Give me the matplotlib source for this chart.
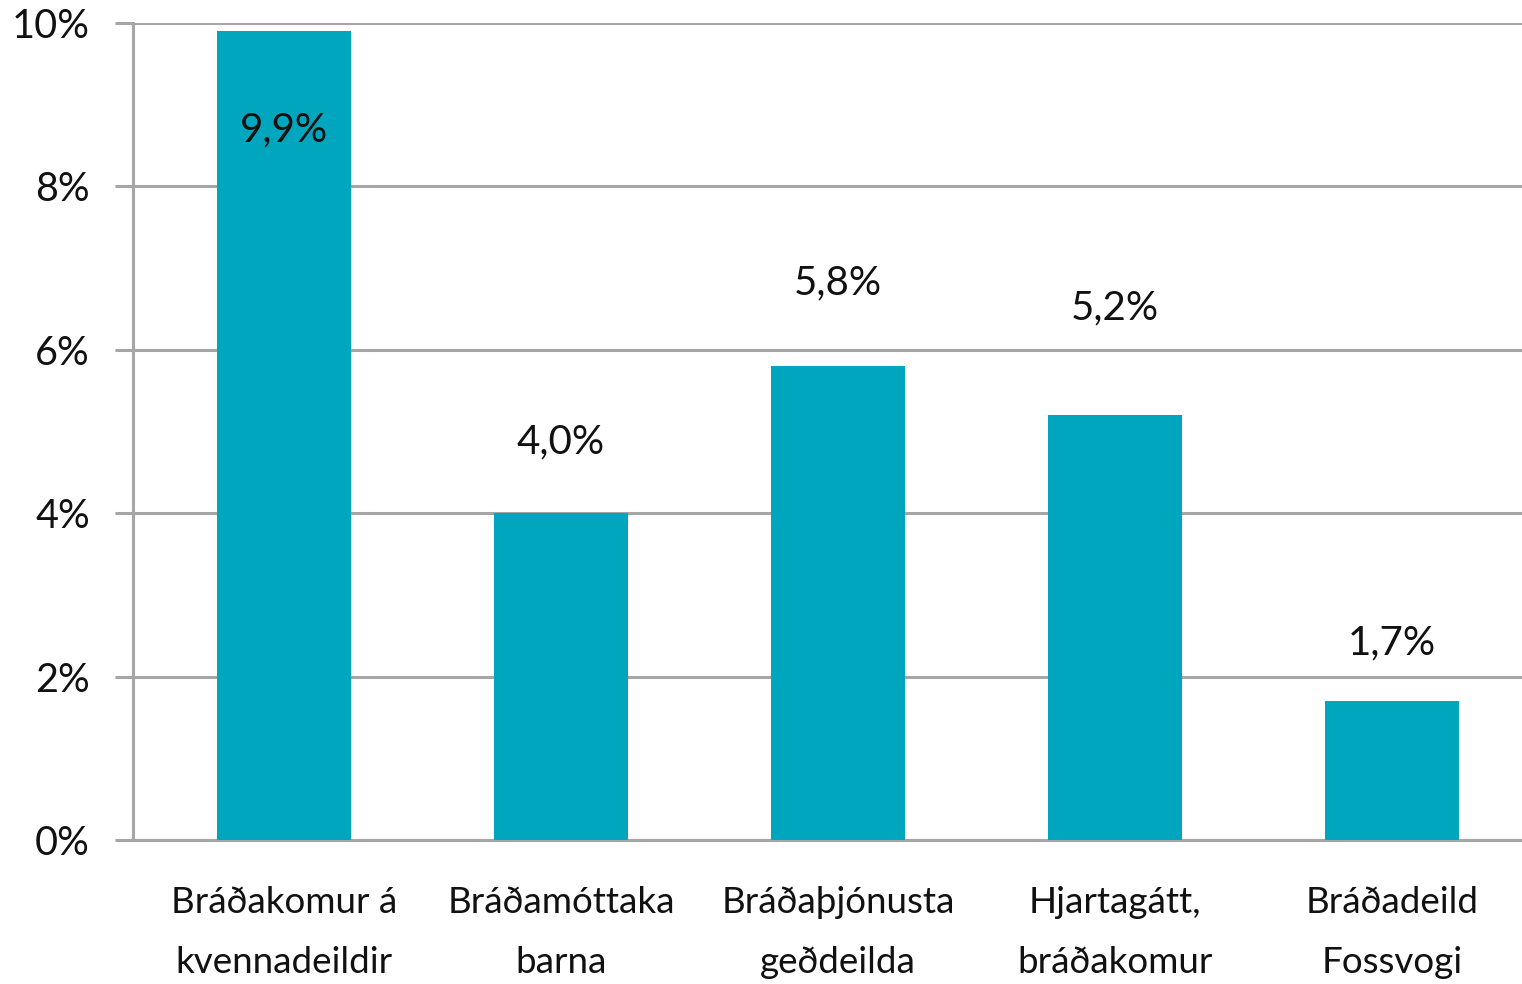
import numpy as np
import matplotlib.pyplot as plt

# Data
categories = ["Bráðakomur á\nkvennadeildir", "Bráðamóttaka\nbarna", "Bráðaþjónusta\ngeðdeilda",
              "Hjartagátt,\nbráðakomur", "Bráðadeild\nFossvogi"]
values = [9.9, 4.0, 5.8, 5.2, 1.7]
value_labels = ["9,9%", "4,0%", "5,8%", "5,2%", "1,7%"]
yticks = [0, 2, 4, 6, 8, 10]
ytick_labels = ["0%", "2%", "4%", "6%", "8%", "10%"]

# label offsets (points) from bar top
label_offsets = [-71, 51, 60, 77, 42]

plt.rcParams['font.family'] = ['Lato', 'DejaVu Sans']

fig = plt.figure(figsize=(15.22, 9.84), dpi=100)
ax = fig.add_axes([133/1522, 1 - 840/984, 1 - 133/1522, (840 - 23)/984])

x = np.arange(len(values))
bars = ax.bar(x, values, width=0.485, color='#00A6BD', zorder=3)

for xi, v, lab, off in zip(x, values, value_labels, label_offsets):
    ax.annotate(lab, (xi, v), xytext=(0, off), textcoords='offset points',
                ha='center', va='center', fontsize=29, color='#111111', zorder=4)

ax.set_ylim(0, 10)
ax.set_xlim(-0.545, 4.47)
ax.set_yticks(yticks)
ax.set_yticklabels(ytick_labels, fontsize=28.5, color='#111111')
ax.set_xticks(x)
ax.set_xticklabels(categories, fontsize=26.5, color='#111111', linespacing=2.0)

ax.grid(axis='y', color='#a6a6a6', linewidth=2.2, zorder=0)
for s in ['top', 'right']:
    ax.spines[s].set_visible(False)
ax.spines['left'].set_color('#a6a6a6')
ax.spines['left'].set_linewidth(2.2)
ax.spines['bottom'].set_color('#a6a6a6')
ax.spines['bottom'].set_linewidth(2.2)
ax.tick_params(axis='y', length=13, width=2.2, color='#a6a6a6', pad=18)
ax.tick_params(axis='x', length=0, pad=33)

fig.savefig('out.png', dpi=100)
